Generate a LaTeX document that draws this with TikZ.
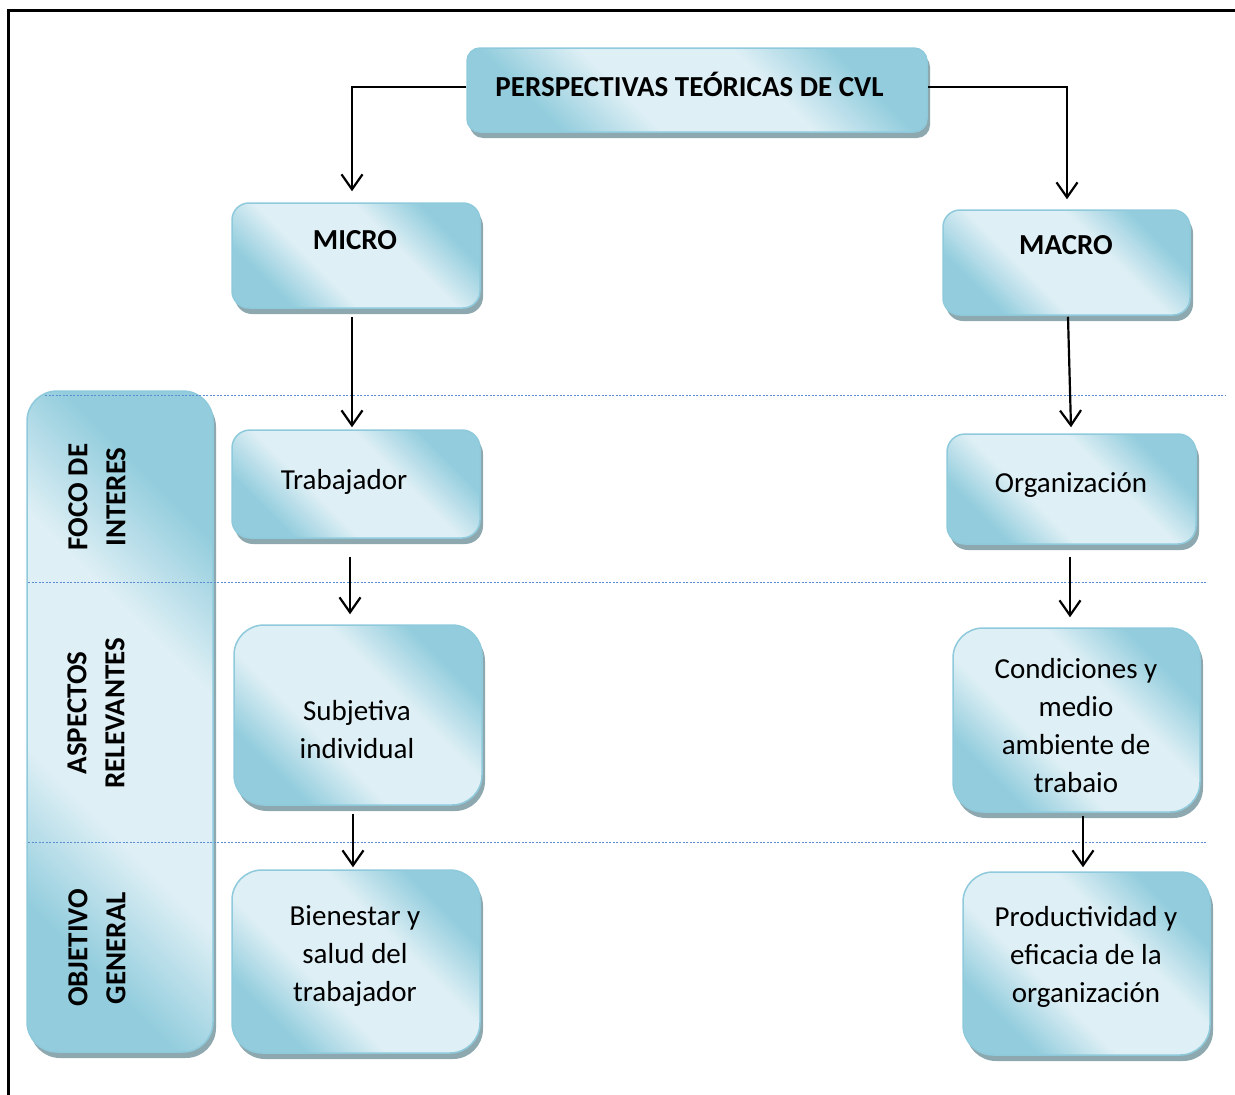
\documentclass[tikz,border=0pt]{standalone}
\usepackage{fontspec}
\setmainfont{Carlito}
\usetikzlibrary{arrows.meta,shadows}
\definecolor{bxdark}{HTML}{93CDDD}
\definecolor{bxlight}{HTML}{DEEFF5}
\definecolor{bxborder}{HTML}{8ECADB}
\definecolor{bxshadow}{HTML}{8DA8AF}
\definecolor{dotblue}{HTML}{5B8DD3}
\pgfdeclarehorizontalshading{boxshade}{100bp}{color(0bp)=(bxdark); color(27bp)=(bxdark); color(40bp)=(bxlight); color(60bp)=(bxlight); color(73bp)=(bxdark); color(100bp)=(bxdark)}
\tikzset{
  box/.style={rectangle, rounded corners=#1, draw=bxborder, line width=1.5pt,
    shade, shading=boxshade, shading angle=45,
    drop shadow={shadow xshift=3pt, shadow yshift=-6pt, fill=bxshadow, opacity=1}},
  box/.default=18pt,
  txt/.style={font=\fontsize{29}{38}\selectfont, align=center, inner sep=0pt},
  btxt/.style={font=\fontsize{29}{38}\selectfont\bfseries, align=center, inner sep=0pt},
  lab/.style={btxt, rotate=90},
  arr/.style={line width=2.2pt, -{Straight Barb[length=15pt,width=21pt]}},
  sep/.style={dotblue, line width=0.9pt, dash pattern=on 2pt off 1.5pt},
  frame/.style={line width=3pt}
}
\begin{document}
\begin{tikzpicture}[x=1pt,y=-1pt]
\useasboundingbox (0,0) rectangle (1235,1095);
% left band
\node[box=30pt, minimum width=186pt, minimum height=661pt] (band) at (120,721.5) {};
% boxes
\node[box=13pt, minimum width=460pt, minimum height=84pt] (top) at (697,90) {};
\node[box=17pt, minimum width=248pt, minimum height=105pt] (micro) at (356,255.5) {};
\node[box=17pt, minimum width=247pt, minimum height=105pt] (macro) at (1066.5,262.5) {};
\node[box=18pt, minimum width=248pt, minimum height=108pt] (trab) at (356,484) {};
\node[box=18pt, minimum width=249pt, minimum height=110pt] (org) at (1071.5,489) {};
\node[box=30pt, minimum width=248pt, minimum height=180pt] (subj) at (358,715) {};
\node[box=30pt, minimum width=247pt, minimum height=184pt] (cond) at (1076.5,720) {};
\node[box=30pt, minimum width=248pt, minimum height=183pt] (bien) at (356,961.5) {};
\node[box=30pt, minimum width=247pt, minimum height=183pt] (prod) at (1086.5,963.5) {};
% texts
\node[btxt] (toptxt) at (689.5,84) {PERSPECTIVAS TEÓRICAS DE CVL};
\node[btxt] (microtxt) at (355,240) {MICRO};
\node[btxt] (macrotxt) at (1066,245) {MACRO};
\node[txt] (trabtxt) at (344,482) {Trabajador};
\node[txt] (orgtxt) at (1071,485) {Organización};
\node[txt] (subjtxt) at (357,730) {Subjetiva\\individual};
\node[txt] (condtxt) at (1076,726) {Condiciones y\\medio\\ambiente de\\trabaio};
\node[txt] (bientxt) at (355,956) {Bienestar y\\salud del\\trabajador};
\node[txt] (prodtxt) at (1086,957) {Productividad y\\eficacia de la\\organización};
% band labels
\node[lab] (lab1) at (97,497) {FOCO DE\\INTERES};
\node[lab] (lab2) at (96,713) {ASPECTOS\\RELEVANTES};
\node[lab] (lab3) at (97,948) {OBJETIVO\\GENERAL};
% separators
\draw[sep] (45,395) -- (1225,395);
\draw[sep] (28,582) -- (1207,582);
\draw[sep] (28,842) -- (1207,842);
% connectors
\draw[arr] ([yshift=3pt]top.west) -| ([xshift=-4pt,yshift=11pt]micro.north);
\draw[arr] ([yshift=3pt]top.east) -| ([xshift=0.5pt,yshift=10pt]macro.north);
\draw[arr] ([xshift=-4pt,yshift=-8pt]micro.south) -- ([xshift=-4pt,yshift=2pt]trab.north);
\draw[arr] ([xshift=1.5pt,yshift=-1pt]macro.south) -- ([xshift=-0.5pt,yshift=6pt]org.north);
\draw[arr] ([xshift=-6pt,yshift=-18pt]trab.south) -- ([xshift=-8pt,yshift=10pt]subj.north);
\draw[arr] ([xshift=-1.5pt,yshift=-12pt]org.south) -- ([xshift=-6.5pt,yshift=10pt]cond.north);
\draw[arr] ([xshift=-5pt,yshift=-8pt]subj.south) -- ([xshift=-3pt,yshift=2pt]bien.north);
\draw[arr] ([xshift=6.5pt,yshift=-3pt]cond.south) -- ([xshift=-3.5pt,yshift=4pt]prod.north);
% frame
\draw[frame] (8,1095) -- (8,10) -- (1235,10);
\end{tikzpicture}
\end{document}
